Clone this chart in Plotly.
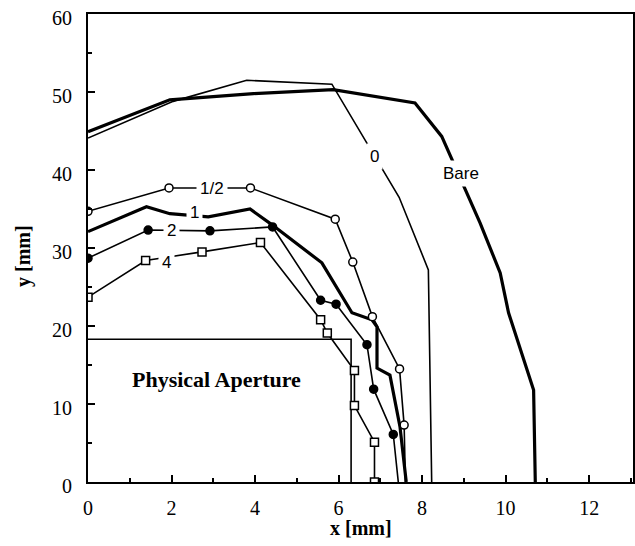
import plotly.graph_objects as go

# ---- data (mm) ----
bare_x = [0, 1.96, 3.96, 5.87, 7.83, 8.47, 9.39, 9.87, 10.07, 10.67, 10.71]
bare_y = [44.9, 49.0, 49.8, 50.3, 48.6, 44.3, 33.2, 26.8, 21.7, 11.8, 0]

c0_x = [0, 2.04, 3.80, 5.84, 7.45, 8.15, 8.23]
c0_y = [44.1, 48.8, 51.5, 51.0, 36.5, 27.2, 0]

half_x = [0, 1.94, 3.89, 5.92, 6.34, 6.81, 7.46, 7.57, 7.60]
half_y = [34.7, 37.7, 37.7, 33.7, 28.2, 21.2, 14.5, 7.3, 0]

one_x = [0, 1.40, 1.96, 2.40, 2.88, 3.88, 4.40, 5.60, 6.32, 6.80, 6.92, 6.92, 7.23, 7.47, 7.62]
one_y = [32.1, 35.3, 34.4, 34.2, 34.0, 35.0, 33.0, 28.1, 21.7, 20.8, 19.9, 14.6, 13.7, 7.1, 0]

two_x = [0, 1.44, 2.92, 4.42, 5.57, 5.94, 6.68, 6.84, 7.31, 7.43]
two_y = [28.7, 32.3, 32.2, 32.7, 23.3, 22.8, 17.6, 11.9, 6.1, 0]

four_x = [0, 1.38, 2.73, 4.13, 5.57, 5.73, 6.38, 6.38, 6.86, 6.86]
four_y = [23.7, 28.4, 29.5, 30.7, 20.8, 19.1, 14.3, 9.8, 5.1, 0]

aperture_x = [0, 6.30, 6.30]
aperture_y = [18.3, 18.3, 0]

x_ticks = [0, 2, 4, 6, 8, 10, 12]
y_ticks = [0, 10, 20, 30, 40, 50, 60]

# curve labels: (text, x, y)
curve_labels = [("0", 6.87, 41.7), ("Bare", 8.92, 39.6), ("1/2", 2.96, 37.6),
                ("1", 2.56, 34.6), ("2", 2.0, 32.3), ("4", 1.89, 28.1)]

fig = go.Figure()

def line(x, y, w):
    fig.add_trace(go.Scatter(x=x, y=y, mode="lines", line=dict(color="black", width=w),
                             showlegend=False, hoverinfo="skip"))

line(aperture_x, aperture_y, 1.6)
line(bare_x, bare_y, 3.2)
line(c0_x, c0_y, 1.6)
line(one_x, one_y, 3.2)

def marked(x, y, symbol, fill, n_markers):
    fig.add_trace(go.Scatter(x=x, y=y, mode="lines", line=dict(color="black", width=1.6),
                             showlegend=False, hoverinfo="skip"))
    fig.add_trace(go.Scatter(x=x[:n_markers], y=y[:n_markers], mode="markers",
                             marker=dict(symbol=symbol, size=8, color=fill,
                                         line=dict(color="black", width=1.5)),
                             showlegend=False, hoverinfo="skip"))

marked(half_x, half_y, "circle", "white", len(half_x) - 1)
marked(two_x, two_y, "circle", "black", len(two_x) - 1)
marked(four_x, four_y, "square", "white", len(four_x))

for text, x, y in curve_labels:
    fig.add_annotation(x=x, y=y, text=text, showarrow=False, bgcolor="white",
                       borderpad=3, font=dict(family="Liberation Sans, Arial", size=17, color="black"))

fig.add_annotation(x=3.08, y=13.1, text="<b>Physical Aperture</b>", showarrow=False,
                   font=dict(family="Liberation Serif, Times New Roman", size=22, color="black"))

fig.add_annotation(xref="paper", yref="paper", x=0.5, y=0, yshift=-46, yanchor="middle",
                   text="<b>x [mm]</b>", showarrow=False,
                   font=dict(family="Liberation Serif, Times New Roman", size=20, color="black"))
fig.add_annotation(xref="paper", yref="paper", x=0, y=0.483, xshift=-64, xanchor="center",
                   text="<b>y [mm]</b>", textangle=-90, showarrow=False,
                   font=dict(family="Liberation Serif, Times New Roman", size=20, color="black"))

axis_common = dict(showgrid=False, zeroline=False, showline=True, linecolor="black",
                   linewidth=2, mirror=True, ticks="inside", tickcolor="black",
                   ticklen=7, tickwidth=1.5, automargin=False, ticklabeloverflow="allow",
                   tickfont=dict(family="Liberation Serif, Times New Roman", size=20, color="black"))

fig.update_xaxes(range=[0, 13.05], tickvals=x_ticks, ticktext=[str(v) for v in x_ticks],
                 minor=dict(dtick=1, ticks="inside", ticklen=4, tickcolor="black", tickwidth=1.5),
                 ticklabelstandoff=7, **axis_common)
fig.update_yaxes(range=[0, 60], tickvals=y_ticks, ticktext=[str(v) for v in y_ticks],
                 minor=dict(dtick=5, ticks="inside", ticklen=4, tickcolor="black", tickwidth=1.5),
                 ticklabelstandoff=10, ticklabelshift=4, **axis_common)

fig.update_layout(width=635, height=546, margin=dict(l=88, r=2, t=14, b=64),
                  plot_bgcolor="white", paper_bgcolor="white")

# remove the default page margin so the figure sits at the window's corner
fig.write_html("out.html", config={"displayModeBar": False},
               post_script="document.body.style.margin='0px';")
